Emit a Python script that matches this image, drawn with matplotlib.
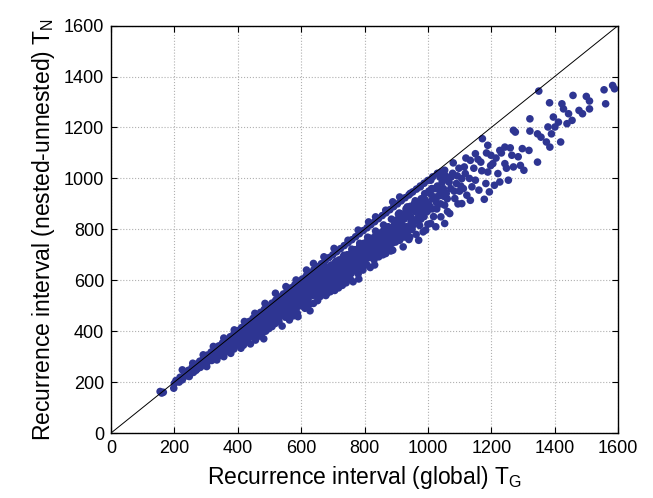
"""Scatter of nested-unnested vs global recurrence interval."""
import matplotlib
matplotlib.use("Agg")
import matplotlib.pyplot as plt
import numpy as np

plt.rcParams['font.family'] = ['Liberation Sans', 'DejaVu Sans']
plt.rcParams['mathtext.fontset'] = 'custom'
plt.rcParams['mathtext.rm'] = 'Liberation Sans'

# (T_G, T_N) pairs, grouped by x band
pts_150_300 = [(160, 157), (155, 163), (165, 160), (198, 176), (200, 195), (210, 205), (215, 200),
               (225, 209), (225, 218), (230, 222), (240, 232), (240, 225), (247, 222), (250, 245),
               (255, 240), (258, 250), (260, 238), (265, 258), (270, 262), (270, 250), (275, 255),
               (280, 272), (285, 265), (285, 278), (290, 280), (291, 274), (295, 270), (300, 292),
               (302, 261), (305, 280), (305, 296), (225, 248), (258, 274), (291, 307),
               (252, 240), (262, 252), (268, 246), (278, 268), (282, 258), (288, 270), (296, 285),
               (298, 275)]
pts_300_400 = [(310, 300), (312, 290), (315, 305), (318, 285), (320, 312), (323, 300), (325, 295),
               (330, 320), (332, 310), (334, 287), (338, 302), (340, 330), (343, 318), (345, 305),
               (350, 340), (352, 325), (355, 312), (356, 300), (358, 345), (360, 330), (362, 318),
               (365, 355), (368, 340), (370, 322), (372, 350), (375, 365), (378, 313), (378, 335),
               (380, 360), (383, 348), (385, 372), (388, 330), (390, 380), (392, 362), (395, 345),
               (398, 385), (323, 340), (356, 373), (389, 405),
               (308, 295), (314, 298), (316, 290), (322, 308), (326, 312), (328, 300), (336, 322),
               (342, 326), (346, 315), (348, 334), (354, 340), (358, 328), (364, 348), (366, 334),
               (371, 360), (374, 342), (377, 352), (382, 370), (386, 358), (391, 372), (394, 360),
               (396, 378)]
pts_400_500 = [(400, 370), (402, 392), (405, 355), (408, 380), (410, 333), (410, 400), (413, 368),
               (415, 390), (418, 345), (420, 410), (421, 400), (424, 380), (426, 360), (428, 415),
               (430, 395), (432, 372), (435, 420), (438, 405), (440, 350), (443, 379), (443, 425),
               (446, 395), (448, 410), (450, 440), (452, 385), (454, 430), (456, 365), (458, 415),
               (460, 448), (462, 400), (465, 380), (468, 455), (470, 430), (472, 410), (474, 390),
               (476, 392), (478, 462), (480, 445), (482, 370), (484, 420), (486, 470), (488, 400),
               (490, 455), (493, 435), (495, 480), (498, 410), (421, 438), (454, 470), (486, 509),
               (404, 390), (407, 372), (412, 395), (416, 380), (419, 405), (423, 392), (427, 372),
               (431, 410), (434, 398), (437, 385), (441, 425), (444, 410), (447, 390), (451, 432),
               (455, 418), (459, 400), (461, 440), (464, 425), (467, 405), (471, 450), (474, 432),
               (477, 415), (481, 458), (485, 440), (489, 425), (492, 465), (496, 450), (499, 432)]
pts_500_600 = [(500, 485), (502, 465), (505, 440), (508, 418), (510, 495), (512, 475), (515, 455),
               (518, 430), (520, 505), (522, 485), (525, 460), (528, 445), (530, 438), (532, 515),
               (535, 495), (538, 470), (540, 420), (542, 525), (545, 505), (548, 480), (550, 455),
               (552, 535), (555, 515), (558, 490), (560, 470), (563, 444), (565, 548), (568, 525),
               (570, 500), (572, 480), (575, 460), (578, 555), (580, 535), (582, 510), (585, 490),
               (588, 470), (590, 457), (592, 570), (595, 545), (598, 520), (519, 549), (552, 575),
               (584, 601),
               (503, 478), (507, 460), (511, 442), (514, 488), (517, 470), (521, 452), (524, 495),
               (527, 478), (531, 460), (534, 505), (537, 488), (541, 470), (544, 515), (547, 495),
               (551, 478), (554, 525), (557, 505), (561, 488), (564, 535), (567, 515), (571, 495),
               (574, 545), (577, 525), (581, 505), (584, 555), (587, 532), (591, 515), (594, 560),
               (597, 540)]
pts_600_700 = [(600, 500), (602, 585), (605, 560), (608, 535), (610, 515), (612, 490), (615, 595),
               (617, 575), (620, 550), (622, 525), (625, 505), (628, 480), (630, 610), (632, 585),
               (635, 560), (638, 540), (639, 509), (642, 620), (645, 595), (648, 570), (650, 545),
               (652, 520), (655, 630), (658, 605), (660, 536), (662, 580), (665, 555), (668, 640),
               (670, 615), (672, 590), (675, 565), (678, 540), (680, 650), (682, 549), (685, 625),
               (688, 600), (690, 575), (692, 555), (695, 660), (698, 635), (617, 640), (639, 666),
               (672, 692),
               (603, 570), (606, 548), (609, 525), (613, 580), (616, 558), (619, 535), (623, 590),
               (626, 565), (629, 545), (633, 600), (636, 575), (640, 552), (643, 605), (646, 585),
               (649, 560), (653, 615), (656, 592), (659, 568), (663, 622), (666, 600), (669, 578),
               (673, 630), (676, 608), (679, 585), (683, 640), (686, 615), (689, 590), (693, 648),
               (696, 622), (699, 598)]
pts_700_800 = [(700, 610), (702, 585), (704, 588), (706, 560), (708, 670), (710, 645), (712, 620),
               (715, 595), (718, 570), (720, 680), (722, 655), (725, 630), (726, 614), (728, 600),
               (730, 580), (732, 690), (735, 665), (738, 640), (740, 615), (742, 590), (745, 700),
               (748, 675), (750, 650), (752, 625), (755, 605), (758, 627), (760, 710), (762, 685),
               (764, 594), (766, 660), (768, 640), (770, 720), (772, 695), (775, 670), (778, 650),
               (780, 625), (782, 605), (785, 735), (788, 710), (790, 680), (792, 660), (795, 640),
               (798, 745), (704, 725), (748, 757), (780, 797),
               (703, 655), (707, 630), (711, 605), (714, 665), (717, 640), (721, 615), (724, 670),
               (727, 648), (731, 625), (734, 678), (737, 655), (741, 632), (744, 688), (747, 662),
               (751, 640), (754, 695), (757, 670), (761, 648), (765, 700), (769, 678), (773, 655),
               (777, 708), (781, 685), (786, 662), (789, 720), (793, 695), (797, 670)]
pts_800_900 = [(800, 720), (802, 679), (805, 700), (808, 660), (810, 755), (812, 735), (815, 690),
               (818, 650), (820, 765), (823, 705), (825, 740), (828, 720), (830, 680), (832, 660),
               (835, 775), (838, 750), (840, 730), (842, 700), (845, 692), (848, 785), (850, 760),
               (852, 720), (855, 740), (858, 700), (860, 795), (862, 770), (865, 750), (867, 705),
               (870, 790), (872, 730), (875, 810), (878, 760), (880, 740), (883, 715), (886, 800),
               (889, 718), (889, 784), (892, 770), (895, 820), (898, 750), (813, 829), (835, 849),
               (867, 875), (889, 908),
               (803, 740), (807, 712), (811, 688), (816, 748), (821, 725), (826, 700), (831, 758),
               (836, 732), (841, 710), (846, 770), (851, 745), (856, 718), (861, 778), (866, 755),
               (871, 760), (876, 790), (881, 770), (887, 745), (893, 800), (897, 780)]
pts_900_1000 = [(900, 836), (903, 800), (906, 780), (909, 845), (911, 757), (913, 820), (916, 790),
                (919, 860), (922, 731), (922, 797), (925, 840), (928, 770), (931, 880), (934, 810),
                (937, 850), (940, 760), (943, 770), (944, 890), (947, 830), (950, 800), (954, 836),
                (957, 900), (960, 870), (963, 780), (965, 901), (968, 845), (971, 757), (974, 815),
                (976, 862), (979, 920), (982, 880), (985, 790), (988, 850), (990, 940), (993, 797),
                (996, 905), (998, 870), (911, 927), (944, 941), (976, 967),
                (902, 815), (907, 860), (912, 800), (917, 835), (921, 770), (926, 810), (932, 855),
                (936, 790), (941, 870), (946, 850), (952, 815), (958, 880), (962, 835), (967, 880),
                (972, 900), (978, 840), (983, 905), (987, 870), (992, 915), (997, 885)]
pts_1000_1100 = [(1000, 820), (1003, 950), (1006, 890), (1009, 823), (1012, 960), (1015, 920),
                 (1018, 850), (1020, 927), (1025, 810), (1028, 880), (1030, 970), (1036, 954),
                 (1040, 900), (1041, 849), (1045, 985), (1047, 993), (1050, 930), (1053, 823),
                 (1053, 895), (1058, 941), (1062, 870), (1065, 1000), (1069, 862), (1072, 960),
                 (1074, 1006), (1080, 1061), (1085, 921), (1090, 980), (1095, 900), (1100, 950),
                 (1009, 993), (1042, 1025), (1053, 1032),
                 (1002, 900), (1008, 940), (1014, 880), (1022, 960), (1027, 905), (1033, 930),
                 (1038, 1005), (1044, 940), (1049, 960), (1056, 1010), (1061, 920), (1067, 985),
                 (1078, 1020), (1083, 950), (1093, 1010), (1098, 1040)]
pts_1100_1600 = [(1107, 901), (1107, 999), (1112, 960), (1118, 1019), (1123, 934), (1134, 914),
                 (1134, 1071), (1139, 967), (1150, 993), (1150, 1097), (1161, 954), (1167, 1064),
                 (1172, 1156), (1178, 918), (1183, 980), (1189, 1025), (1189, 1130), (1194, 947),
                 (1199, 1091), (1205, 1058), (1210, 973), (1221, 1019), (1227, 986), (1227, 1110),
                 (1243, 1058), (1243, 1123), (1254, 993), (1265, 1091), (1270, 1045), (1270, 1189),
                 (1276, 1182), (1292, 1051), (1298, 1117), (1303, 1032), (1319, 1110), (1322, 1186),
                 (1322, 1234), (1346, 1064), (1346, 1175), (1350, 1343), (1357, 1162), (1374, 1143),
                 (1379, 1202), (1384, 1297), (1385, 1123), (1390, 1175), (1396, 1241), (1401, 1202),
                 (1412, 1221), (1419, 1143), (1423, 1293), (1428, 1273), (1439, 1215), (1444, 1254),
                 (1455, 1228), (1458, 1326), (1477, 1267), (1488, 1254), (1500, 1322), (1510, 1273),
                 (1510, 1304), (1556, 1348), (1561, 1293), (1583, 1365), (1589, 1352),
                 (1104, 970), (1115, 1045), (1120, 1080), (1131, 1000), (1145, 1040), (1158, 1075),
                 (1170, 1030), (1185, 1100), (1198, 1050), (1215, 1080), (1232, 1100), (1248, 1040),
                 (1260, 1120), (1285, 1085)]
# points hugging the diagonal (upper edge of the band)
pts_diag = [(205, 206), (218, 219), (232, 233), (244, 246), (256, 258), (268, 270), (280, 282),
            (292, 294), (304, 306), (316, 318), (328, 330), (340, 342), (352, 354), (364, 366),
            (376, 378), (388, 390), (400, 402), (412, 414), (424, 426), (436, 438), (448, 450),
            (460, 462), (472, 474), (484, 486), (496, 498), (508, 510), (520, 522), (532, 534),
            (544, 546), (556, 558), (568, 570), (580, 582), (592, 594), (604, 605), (616, 617),
            (628, 629), (640, 641), (652, 653), (664, 665), (676, 677), (688, 689), (700, 700),
            (712, 712), (724, 724), (736, 736), (748, 747), (760, 759), (772, 771), (784, 783),
            (796, 795), (808, 806), (820, 818), (832, 830), (844, 842), (856, 854), (868, 865),
            (880, 877), (892, 889), (904, 900), (916, 912), (928, 924), (940, 935), (952, 947),
            (964, 958), (976, 970), (988, 981), (1000, 992), (1015, 1006), (1030, 1020),
            (310, 295), (335, 318), (360, 342), (385, 366), (410, 390), (435, 413), (460, 437),
            (485, 461), (510, 484), (535, 508), (560, 532), (585, 556), (610, 579), (635, 603),
            (660, 627), (685, 650), (710, 674), (735, 698), (760, 722), (785, 745), (810, 769),
            (835, 793), (860, 817), (885, 840), (910, 864), (935, 888), (960, 912)]

all_pts = np.array(pts_150_300 + pts_300_400 + pts_400_500 + pts_500_600 + pts_600_700
                   + pts_700_800 + pts_800_900 + pts_900_1000 + pts_1000_1100 + pts_1100_1600
                   + pts_diag)
t_global = all_pts[:, 0]
t_nested = all_pts[:, 1]

ticks = [0, 200, 400, 600, 800, 1000, 1200, 1400, 1600]

fig = plt.figure(figsize=(6.53, 4.98), dpi=100)
ax = fig.add_axes([0.170, 0.1305, 0.7764, 0.818])

ax.scatter(t_global, t_nested, s=30, color='#2e3592', edgecolors='none', zorder=2)
ax.plot([0, 1600], [0, 1600], color='black', linewidth=0.7, zorder=3)

ax.set_xlim(0, 1600)
ax.set_ylim(0, 1600)
ax.set_xticks(ticks)
ax.set_yticks(ticks)
ax.grid(True, linestyle=':', color='#b0b0b0', linewidth=0.8)
ax.tick_params(direction='in', top=True, right=True, labelsize=13, length=4, pad=5)
for sp in ax.spines.values():
    sp.set_linewidth(1.0)

ax.set_xlabel(r'Recurrence interval (global) T$_{\mathrm{G}}$', fontsize=16.5, labelpad=5)
ax.set_ylabel(r'Recurrence interval (nested-unnested) T$_{\mathrm{N}}$', fontsize=16.5, labelpad=5)

plt.savefig('out.png', dpi=100)
